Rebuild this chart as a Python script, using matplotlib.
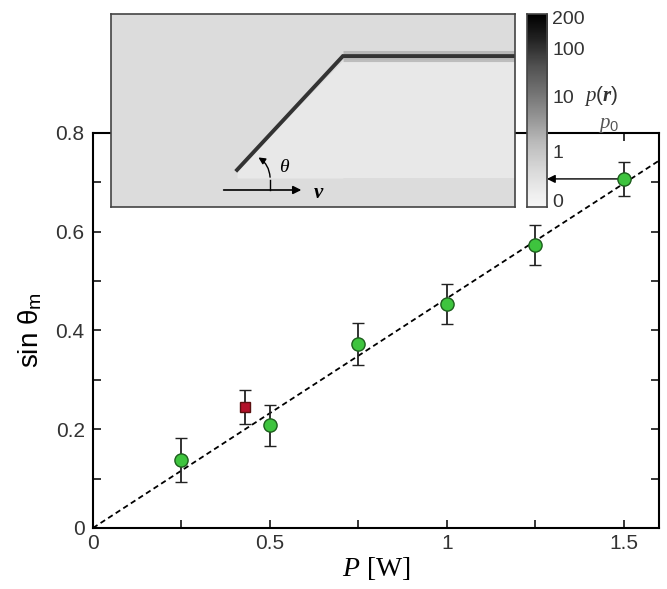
import numpy as np
import matplotlib
matplotlib.use("Agg")
import matplotlib.pyplot as plt
from matplotlib.ticker import MultipleLocator

plt.rcParams['font.family'] = ['Liberation Sans', 'DejaVu Sans']
plt.rcParams['mathtext.fontset'] = 'custom'
plt.rcParams['mathtext.rm'] = 'Liberation Sans'
plt.rcParams['mathtext.it'] = 'Liberation Serif:italic'
plt.rcParams['mathtext.bf'] = 'Liberation Serif:italic:bold'

# measured data
power = [0.25, 0.5, 0.75, 1.0, 1.25, 1.5]
sin_theta = [0.138, 0.208, 0.373, 0.454, 0.573, 0.707]
sin_err = [0.045, 0.042, 0.042, 0.040, 0.040, 0.034]

# odd point (red square)
red_power = [0.43]
red_sin = [0.245]
red_err = [0.034]

# linear fit through origin
fit_slope = 0.465
fit_x = [0.0, 1.6]

# colorbar of the inset
cbar_ticks = [0.036, 0.285, 0.57, 0.819, 0.984]
cbar_labels = ['0', '1', '10', '100', '200']

# track in the inset picture (axes fraction)
track_x = [0.312, 0.574, 1.0]
track_y = [0.192, 0.782, 0.782]

fig = plt.figure(figsize=(6.67, 5.89), dpi=100)
ax = fig.add_axes([0.1394, 0.1036, 0.8486, 0.6706])

ax.plot(fit_x, [fit_slope * x for x in fit_x], ls=(0, (3, 2)), color='black', lw=1.3, zorder=2)
ax.errorbar(power, sin_theta, yerr=sin_err, fmt='o', ms=9.5, mfc='#3ec43e', mec='#1d5e1d',
            mew=1.0, ecolor='#222222', elinewidth=1.3, capsize=4.5, capthick=1.3, zorder=3)
ax.errorbar(red_power, red_sin, yerr=red_err, fmt='s', ms=7.5, mfc='#b3122a', mec='#5a1010',
            mew=1.0, ecolor='#222222', elinewidth=1.3, capsize=4.5, capthick=1.3, zorder=3)

ax.set_xlim(0, 1.6)
ax.set_ylim(0, 0.8)
ax.xaxis.set_minor_locator(MultipleLocator(0.25))
ax.yaxis.set_minor_locator(MultipleLocator(0.1))
ax.set_xticks([0, 0.5, 1, 1.5], ['0', '0.5', '1', '1.5'])
ax.set_yticks([0, 0.2, 0.4, 0.6, 0.8], ['0', '0.2', '0.4', '0.6', '0.8'])
ax.tick_params(which='both', direction='in', top=True, right=True, length=6, width=1.1,
               labelsize=15, labelcolor='#333333')
ax.tick_params(axis='y', pad=6)
ax.tick_params(axis='x', pad=4)
for s in ax.spines.values():
    s.set_linewidth(1.5)

ax.set_ylabel(r'sin θ$_{\mathrm{m}}$', fontsize=20, labelpad=8)
ax.set_xlabel(r'$P$ [W]', fontsize=20, family='Liberation Serif', labelpad=2)

# inset picture
ins = fig.add_axes([0.1664, 0.6486, 0.6057, 0.3276])
ins.set_facecolor('#dcdcdc')
ins.fill_between([0.574, 1.0], [0.76, 0.76], [0.15, 0.15], color='#e8e8e8', lw=0)
ins.fill_between([0.312, 0.574], [0.192, 0.76], [0.15, 0.15], color='#e8e8e8', lw=0)
ins.plot(track_x[1:], track_y[1:], color='#8a8a8a', lw=8, alpha=0.45, solid_capstyle='butt')
ins.plot(track_x, track_y, color='#333333', lw=2.8, solid_joinstyle='miter')
ins.set_xlim(0, 1)
ins.set_ylim(0, 1)
ins.set_xticks([])
ins.set_yticks([])
for s in ins.spines.values():
    s.set_color('#444444')
    s.set_linewidth(1.2)

ins.annotate('', xy=(0.478, 0.088), xytext=(0.272, 0.088),
             arrowprops=dict(arrowstyle='-|>', color='black', lw=1.2, mutation_scale=12))
ins.plot([0.394, 0.394], [0.088, 0.14], color='black', lw=1.0)
ins.annotate('', xy=(0.359, 0.264), xytext=(0.394, 0.14),
             arrowprops=dict(arrowstyle='-|>', color='black', lw=1.0, mutation_scale=10,
                             connectionstyle='arc3,rad=0.3'))
ins.text(0.416, 0.202, r'$\theta$', fontsize=14, va='center', ha='left')
ins.text(0.50, 0.075, r'$\mathbf{v}$', fontsize=15, va='center', ha='left')

# colorbar
cax = fig.add_axes([0.790, 0.6486, 0.030, 0.3276])
grad = np.linspace(0, 1, 256).reshape(-1, 1)
cax.imshow(grad, origin='lower', aspect='auto', cmap='Greys', vmin=-0.08, vmax=1.0,
           extent=[0, 1, 0, 1])
cax.set_xticks([])
cax.yaxis.tick_right()
cax.set_yticks(cbar_ticks, cbar_labels)
cax.tick_params(axis='y', length=0, pad=4, labelsize=14, labelcolor='#333333')
for s in cax.spines.values():
    s.set_color('#444444')
    s.set_linewidth(1.2)

fig.text(0.876, 0.828, r'$p(\mathbf{r})$', fontsize=15, color='#333333')
fig.text(0.897, 0.783, r'$p_0$', fontsize=15, color='#555555')

# arrow from last point to colorbar
x_edge = ax.transData.inverted().transform(cax.transAxes.transform((1, 0)))[0]
ax.annotate('', xy=(x_edge, sin_theta[-1]), xytext=(power[-1], sin_theta[-1]),
            arrowprops=dict(arrowstyle='-|>', color='black', lw=1.0, mutation_scale=12,
                            shrinkA=0, shrinkB=0), annotation_clip=False, zorder=1)

fig.savefig('out.png', dpi=100)
